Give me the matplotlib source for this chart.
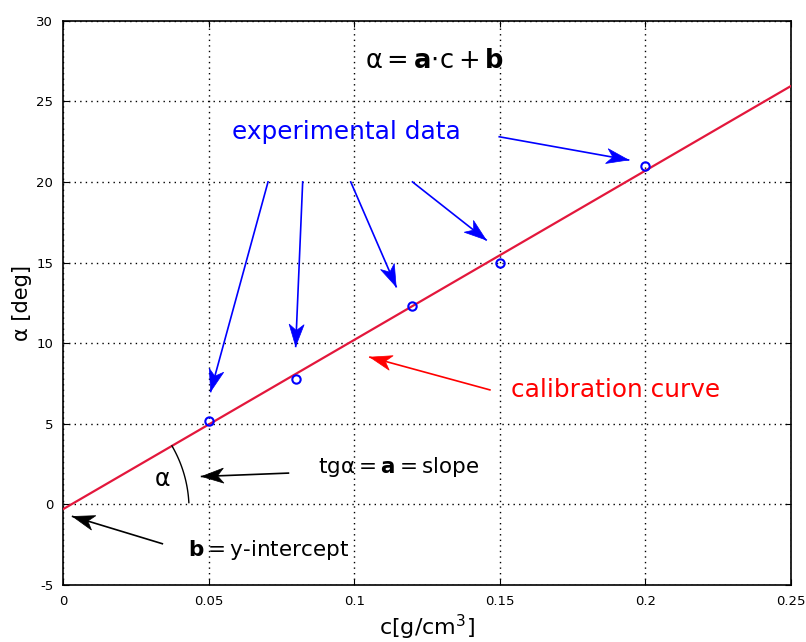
import numpy as np
import matplotlib
matplotlib.use("Agg")
import matplotlib.pyplot as plt
from matplotlib.patches import Polygon

plt.rcParams["axes.unicode_minus"] = False

# data
conc = [0.05, 0.08, 0.12, 0.15, 0.20]
angle = [5.2, 7.8, 12.3, 15.0, 21.0]
fit_c = [0.0, 0.25]
fit_alpha = [-0.3, 25.95]
xticks = [0, 0.05, 0.1, 0.15, 0.2, 0.25]
xticklabels = ["0", "0.05", "0.1", "0.15", "0.2", "0.25"]
yticks = [-5, 0, 5, 10, 15, 20, 25, 30]

fig = plt.figure(figsize=(8.06, 6.42), dpi=100)
ax = fig.add_axes([0.0782, 0.0888, 0.9032, 0.879])

ax.plot(fit_c, fit_alpha, color="#e3173c", lw=1.6, zorder=3)
ax.plot(conc, angle, "o", mfc="none", mec="blue", mew=1.5, ms=6, zorder=4)

ax.set_xlim(0, 0.25)
ax.set_ylim(-5, 30)
ax.set_xticks(xticks)
ax.set_xticklabels(xticklabels)
ax.set_yticks(yticks)
ax.tick_params(direction="in", top=True, right=True, length=4, labelsize=9.5, pad=7)
ax.grid(True, linestyle=(0, (1, 3)), color="black", lw=1)
for s in ax.spines.values():
    s.set_linewidth(1.2)
ax.set_xlabel(r"c[g/cm$^3$]", fontsize=16, labelpad=4)
ax.set_ylabel("α [deg]", fontsize=15, labelpad=3)

# texts
ax.text(0.1277, 27.5, r"α$=\mathbf{a}{\cdot}\mathrm{c}+\mathbf{b}$",
        fontsize=18.5, ha="center", va="center")
ax.text(0.0972, 23.1, "experimental data", color="blue", fontsize=17.8,
        ha="center", va="center")
ax.text(0.1538, 7.1, "calibration curve", color="red", fontsize=17.8,
        ha="left", va="center")
ax.text(0.0876, 2.3, r"tgα$=\mathbf{a}=$slope",
        fontsize=15.5, ha="left", va="center")
ax.text(0.0429, -2.8, r"$\mathbf{b}=$y-intercept",
        fontsize=15.5, ha="left", va="center")
ax.text(0.0343, 1.6, "α", fontsize=17, ha="center", va="center")

fig.canvas.draw()
inv = ax.transData.inverted()


def arrow(start, end, color, lw=1.2, L=22.0, W=7.5):
    ax.plot([start[0], end[0]], [start[1], end[1]], color=color, lw=lw, zorder=5)
    s = ax.transData.transform(start)
    e = ax.transData.transform(end)
    u = (e - s) / np.hypot(*(e - s))
    n = np.array([-u[1], u[0]])
    pts = np.array([e, e - L * u + W * n, e - 0.72 * L * u, e - L * u - W * n])
    ax.add_patch(Polygon(inv.transform(pts), closed=True, fc=color, ec=color,
                         lw=0.5, zorder=5))


blue_arrows = [((0.0704, 20.0), (0.0507, 7.0)),
               ((0.0823, 20.0), (0.0799, 9.8)),
               ((0.0988, 20.0), (0.1144, 13.5)),
               ((0.1200, 20.0), (0.1453, 16.4)),
               ((0.1498, 22.8), (0.1942, 21.36))]
for s, e in blue_arrows:
    arrow(s, e, "blue")
arrow((0.1466, 7.1), (0.1054, 9.13), "red")
arrow((0.0774, 1.94), (0.0476, 1.73), "black")
arrow((0.0341, -2.44), (0.0033, -0.75), "black")

# angle arc drawn in display space around the intercept
p0 = ax.transData.transform((fit_c[0], fit_alpha[0]))
p1 = ax.transData.transform((fit_c[1], fit_alpha[1]))
ang = np.arctan2(p1[1] - p0[1], p1[0] - p0[0])
r = 126
th = np.linspace(np.deg2rad(3), ang, 50)
pts = np.column_stack([p0[0] + r * np.cos(th), p0[1] + r * np.sin(th)])
dpts = inv.transform(pts)
ax.plot(dpts[:, 0], dpts[:, 1], color="black", lw=1.0, zorder=3)

fig.savefig("out.png", dpi=100)
